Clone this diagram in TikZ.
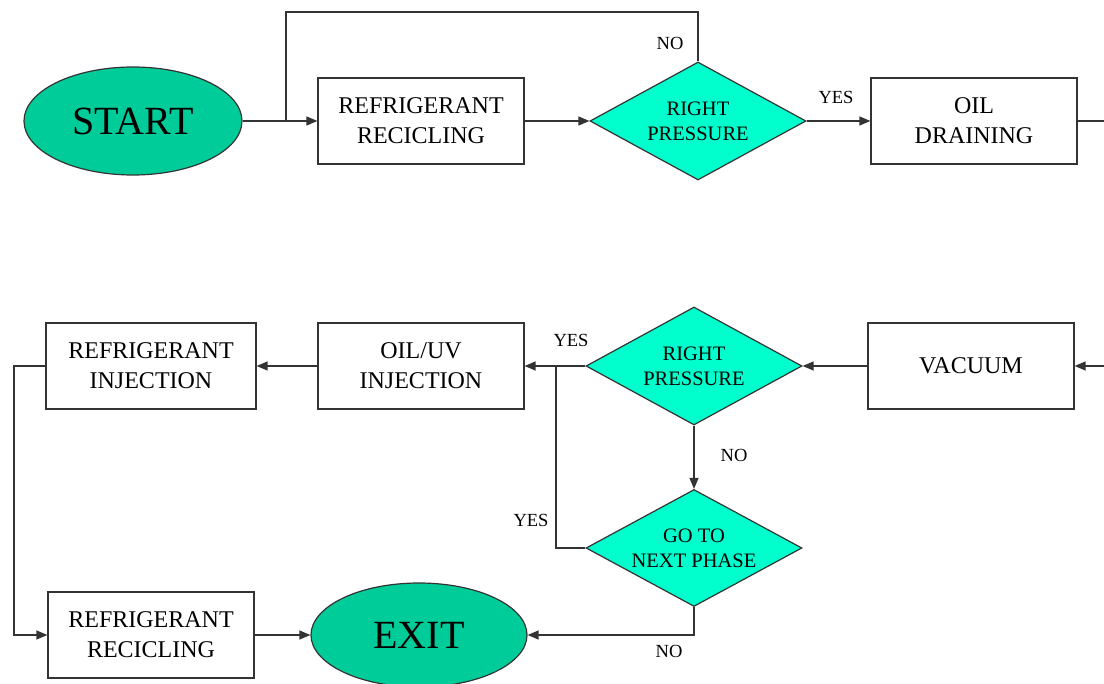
\documentclass[tikz,border=0pt]{standalone}
\usepackage{fontspec}
\setmainfont{Liberation Serif}
\usetikzlibrary{shapes.geometric,arrows.meta}
\definecolor{ovalfill}{HTML}{00CC99}
\definecolor{diafill}{HTML}{00FFCC}
\definecolor{ink}{HTML}{333333}
\begin{document}
\begin{tikzpicture}[x=1pt,y=-1pt,
  conn/.style={line width=1.3pt, draw=ink},
  stepbox/.style={draw=ink, line width=1.2pt, rectangle, minimum width=206pt, minimum height=86pt, inner sep=0pt, align=center, font=\fontsize{24}{30}\selectfont},
  decision/.style={draw=ink, line width=1.2pt, diamond, aspect=1.83, minimum width=216pt, minimum height=118pt, inner sep=0pt, fill=diafill, align=center, font=\fontsize{20.5}{25}\selectfont},
  terminal/.style={draw=ink, line width=1.2pt, ellipse, minimum width=218pt, minimum height=108pt, inner sep=0pt, fill=ovalfill, font=\fontsize{40}{44}\selectfont},
  lbl/.style={font=\fontsize{18.5}{20}\selectfont, inner sep=0pt},
  arr/.style={conn, -{Triangle[length=11pt,width=9pt]}}
]
\useasboundingbox (0,0) rectangle (1104,684);
% row 1
\node[terminal] (start) at (133,121) {START};
\node[stepbox] (rr1) at (421,121) {REFRIGERANT\\RECICLING};
\node[decision] (d1) at (698,121) {RIGHT\\PRESSURE};
\node[stepbox] (oil) at (974,121) {OIL\\DRAINING};
\coordinate (j1) at (286,121);
\coordinate (offR1) at (1104,121);
% row 2
\node[stepbox] (vac) at (971,366) {VACUUM};
\node[decision] (d2) at (694,366) {RIGHT\\PRESSURE};
\node[stepbox] (oiluv) at (421,366) {OIL/UV\\INJECTION};
\node[stepbox, minimum width=210pt] (rinj) at (151,366) {REFRIGERANT\\INJECTION};
\coordinate (offR2) at (1104,366);
\coordinate (j2) at (556,366);
\coordinate (lft) at (14,366);
% row 3
\node[decision, minimum height=117pt] (d3) at (694,548) {GO TO\\NEXT PHASE};
\node[stepbox] (rr2) at (151,635) {REFRIGERANT\\RECICLING};
\node[terminal, minimum width=216pt, minimum height=104pt] (exit) at (419,635) {EXIT};
\coordinate (j3) at (556,548);
% connectors row 1
\draw[arr] (start.east) -- (rr1.west);
\draw[conn] (d1.north) -- (d1.north |- 0,12) -| (j1);
\draw[arr] (rr1.east) -- (d1.west);
\draw[arr] (d1.east) -- (oil.west);
\draw[conn] (oil.east) -- (offR1);
% connectors row 2
\draw[arr] (offR2) -- (vac.east);
\draw[arr] (vac.west) -- (d2.east);
\draw[arr] (d2.west) -- (oiluv.east);
\draw[arr] (oiluv.west) -- (rinj.east);
\draw[arr] (rinj.west) -- (lft) |- (rr2.west);
\draw[arr] (d2.south) -- (d3.north);
\draw[conn] (d3.west) -- (j3) -- (j2);
\draw[arr] (d3.south) |- (exit.east);
\draw[arr] (rr2.east) -- (exit.west);
% labels
\node[lbl] (l1) at (670,43) {NO};
\node[lbl] (l2) at (836,97) {YES};
\node[lbl] (l3) at (571,340) {YES};
\node[lbl] (l4) at (734,455) {NO};
\node[lbl] (l5) at (531,520) {YES};
\node[lbl] (l6) at (669,651) {NO};
\end{tikzpicture}
\end{document}
